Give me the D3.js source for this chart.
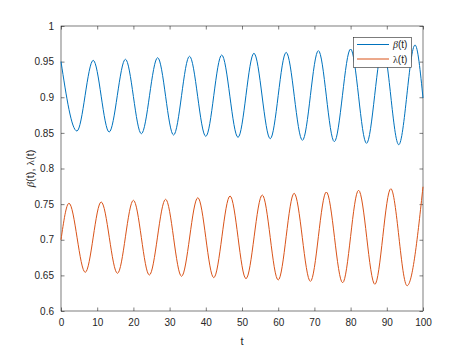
<!DOCTYPE html>
<html>
<head>
<meta charset="utf-8">
<script src="https://cdn.jsdelivr.net/npm/d3@7"></script>
<style>
  body { margin: 0; background: #fff; }
  text { font-family: "Liberation Sans", Arial, sans-serif; fill: #262626; }
</style>
</head>
<body>
<svg id="chart" width="467" height="350"></svg>
<script>
const svgX = 467, svgY = 350;

// extrema of each curve (t, value)
const betaT = [0, 4.4, 8.9, 13.3, 17.8, 22.2, 26.7, 31.1, 35.5, 40.0, 44.4, 48.9, 53.3, 57.8, 62.2, 66.7, 71.1, 75.5, 80.0, 84.4, 88.9, 93.3, 97.8, 100]
const betaV = [0.950, 0.8526, 0.9518, 0.8512, 0.9533, 0.8488, 0.9555, 0.8470, 0.9575, 0.8451, 0.9593, 0.8437, 0.9617, 0.8418, 0.9630, 0.8396, 0.9654, 0.8377, 0.9677, 0.8353, 0.9700, 0.8334, 0.9733, 0.899]

const lambdaT = [0, 2.2, 6.7, 11.1, 15.6, 20.0, 24.4, 28.9, 33.3, 37.8, 42.2, 46.7, 51.1, 55.6, 60.0, 64.4, 68.9, 73.3, 77.8, 82.2, 86.7, 91.1, 95.6, 100]
const lambdaV = [0.700, 0.7512, 0.6543, 0.7530, 0.6529, 0.7554, 0.6505, 0.7568, 0.6487, 0.7590, 0.6468, 0.7614, 0.6454, 0.7628, 0.6435, 0.7652, 0.6416, 0.7670, 0.6397, 0.7694, 0.6375, 0.7716, 0.6355, 0.7744]

const xTicks = [0, 10, 20, 30, 40, 50, 60, 70, 80, 90, 100]
const yTicks = [0.6, 0.65, 0.7, 0.75, 0.8, 0.85, 0.9, 0.95, 1]
const seriesNames = ["β(t)", "λ(t)"]
const seriesColors = ["#0072BD", "#D95319"]

const box = {left: 61, right: 423, top: 26, bottom: 311}
const axisColor = "#262626"

const svg = d3.select("#chart")

const x = d3.scaleLinear().domain([0, 100]).range([box.left, box.right])
const y = d3.scaleLinear().domain([0.6, 1]).range([box.bottom, box.top])

function drawAxes() {
    const tickLen = 3.5
    const fmt = d => d3.format("")(d)

    const bottom = svg.append("g").attr("transform", `translate(0,${box.bottom})`)
        .call(d3.axisBottom(x).tickValues(xTicks).tickSize(-tickLen).tickPadding(8).tickFormat(fmt))
    const top = svg.append("g").attr("transform", `translate(0,${box.top})`)
        .call(d3.axisTop(x).tickValues(xTicks).tickSize(-tickLen).tickFormat(""))
    const left = svg.append("g").attr("transform", `translate(${box.left},0)`)
        .call(d3.axisLeft(y).tickValues(yTicks).tickSize(-tickLen).tickPadding(7).tickFormat(fmt))
    const right = svg.append("g").attr("transform", `translate(${box.right},0)`)
        .call(d3.axisRight(y).tickValues(yTicks).tickSize(-tickLen).tickFormat(""))

    for (const g of [bottom, top, left, right]) {
        g.select(".domain").remove()
        g.selectAll("line").attr("stroke", axisColor).attr("stroke-width", 0.6)
        g.selectAll("text").attr("font-size", 10).attr("fill", axisColor)
            .style("font-family", '"Liberation Sans", Arial, sans-serif')
    }

    svg.append("rect")
        .attr("x", box.left).attr("y", box.top)
        .attr("width", box.right - box.left).attr("height", box.bottom - box.top)
        .attr("fill", "none").attr("stroke", axisColor).attr("stroke-width", 0.6)
}

function drawSeries(ts, vs, color) {
    const pts = ts.map((t, i) => [t, vs[i]])
    const line = d3.line()
        .x(d => x(d[0]))
        .y(d => y(d[1]))
        .curve(d3.curveMonotoneX)
    svg.append("path")
        .attr("d", line(pts))
        .attr("fill", "none")
        .attr("stroke", color)
        .attr("stroke-width", 1)
}

function drawLabels() {
    svg.append("text")
        .attr("x", (box.left + box.right) / 2).attr("y", 345)
        .attr("text-anchor", "middle").attr("font-size", 11)
        .text("t")

    const yl = svg.append("text")
        .attr("transform", `translate(34,${(box.top + box.bottom) / 2}) rotate(-90)`)
        .attr("text-anchor", "middle").attr("font-size", 11)
    yl.append("tspan").attr("font-style", "italic").attr("font-family", '"Liberation Serif", serif').text("β")
    yl.append("tspan").text("(t), ")
    yl.append("tspan").attr("font-family", '"Liberation Serif", serif').text("λ")
    yl.append("tspan").text("(t)")
}

function drawLegend() {
    const lg = svg.append("g")
    lg.append("rect")
        .attr("x", 353.5).attr("y", 37.5).attr("width", 58).attr("height", 30)
        .attr("fill", "#fff").attr("stroke", axisColor).attr("stroke-width", 0.6)

    seriesNames.forEach((name, i) => {
        const yy = 44.5 + i * 14.5
        lg.append("line")
            .attr("x1", 357).attr("x2", 389).attr("y1", yy).attr("y2", yy)
            .attr("stroke", seriesColors[i]).attr("stroke-width", 1)
        const t = lg.append("text").attr("x", 393).attr("y", yy + 3.5).attr("font-size", 10)
        t.append("tspan").attr("font-family", '"Liberation Serif", serif')
            .attr("font-style", i === 0 ? "italic" : "normal").text(name[0])
        t.append("tspan").text(name.slice(1))
    })
}

drawAxes()
drawSeries(betaT, betaV, seriesColors[0])
drawSeries(lambdaT, lambdaV, seriesColors[1])
drawLabels()
drawLegend()
</script>
</body>
</html>
